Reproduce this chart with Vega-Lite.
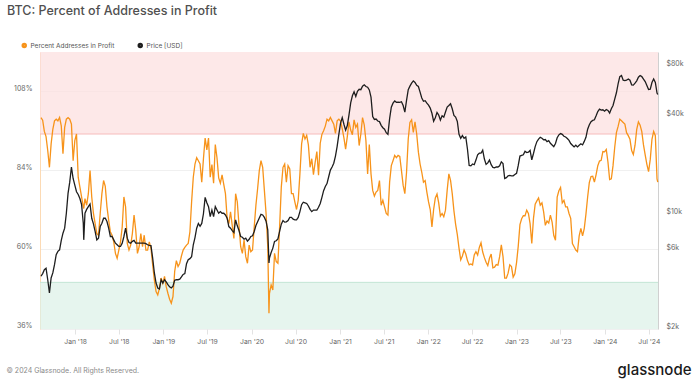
{
  "$schema": "https://vega.github.io/schema/vega-lite/v6.json",
  "width": 618,
  "height": 277,
  "autosize": {"type": "none"},
  "padding": {"left": 40, "top": 52, "right": 42, "bottom": 54},
  "background": "#ffffff",
  "title": {"text": "BTC: Percent of Addresses in Profit", "anchor": "start", "frame": "group", "dx": -33, "offset": 25, "fontSize": 12.5, "font": "Inter", "fontWeight": 500, "color": "#505050"},
  "config": {
    "view": {"stroke": null},
    "font": "Inter",
    "axisY": {
      "labelFontSize": 7, "labelColor": "#666666", "labelFont": "Inter", "labelBaseline": "bottom",
      "tickSize": 0, "labelPadding": 8, "grid": true, "gridColor": "#f0f0f0",
      "titleAngle": 0, "titleBaseline": "middle", "titleFont": "Inter"
    }
  },
  "datasets": {
    "zones": [
      {"zone": "profit", "lo": 95, "hi": 119.88},
      {"zone": "loss", "lo": 35.85, "hi": 50}
    ],
    "btc": [
      {"date":"2017-08-13","pct":100.0,"price":4200},
      {"date":"2017-08-20","pct":99.2,"price":4360},
      {"date":"2017-08-27","pct":95.8,"price":4610},
      {"date":"2017-09-03","pct":94.2,"price":4700},
      {"date":"2017-09-10","pct":90.0,"price":4000},
      {"date":"2017-09-17","pct":84.9,"price":3320},
      {"date":"2017-09-24","pct":92.0,"price":4100},
      {"date":"2017-10-01","pct":96.4,"price":4400},
      {"date":"2017-10-08","pct":99.0,"price":4940},
      {"date":"2017-10-15","pct":99.5,"price":5690},
      {"date":"2017-10-22","pct":99.0,"price":5960},
      {"date":"2017-10-29","pct":100.0,"price":6090},
      {"date":"2017-11-05","pct":97.5,"price":6950},
      {"date":"2017-11-12","pct":89.0,"price":7700},
      {"date":"2017-11-19","pct":97.0,"price":8260},
      {"date":"2017-11-26","pct":99.5,"price":10190},
      {"date":"2017-12-03","pct":100.0,"price":13480},
      {"date":"2017-12-10","pct":99.5,"price":15780},
      {"date":"2017-12-17","pct":98.0,"price":19540},
      {"date":"2017-12-24","pct":86.9,"price":16620},
      {"date":"2017-12-31","pct":93.0,"price":15150},
      {"date":"2018-01-07","pct":95.0,"price":13790},
      {"date":"2018-01-14","pct":81.9,"price":13270},
      {"date":"2018-01-21","pct":78.9,"price":12540},
      {"date":"2018-01-28","pct":75.9,"price":11500},
      {"date":"2018-02-04","pct":72.9,"price":8860},
      {"date":"2018-02-06","pct":72.4,"price":7010},
      {"date":"2018-02-11","pct":75.4,"price":10190},
      {"date":"2018-02-18","pct":73.4,"price":10760},
      {"date":"2018-02-25","pct":76.9,"price":11180},
      {"date":"2018-03-04","pct":83.9,"price":11600},
      {"date":"2018-03-11","pct":75.9,"price":9500},
      {"date":"2018-03-18","pct":70.9,"price":8780},
      {"date":"2018-03-25","pct":67.8,"price":7890},
      {"date":"2018-04-01","pct":64.8,"price":7010},
      {"date":"2018-04-08","pct":64.3,"price":7180},
      {"date":"2018-04-15","pct":70.9,"price":8450},
      {"date":"2018-04-22","pct":76.9,"price":8860},
      {"date":"2018-04-29","pct":80.9,"price":9500},
      {"date":"2018-05-06","pct":79.1,"price":9500},
      {"date":"2018-05-13","pct":72.9,"price":9070},
      {"date":"2018-05-20","pct":68.9,"price":8260},
      {"date":"2018-05-27","pct":65.3,"price":7350},
      {"date":"2018-06-03","pct":64.3,"price":7350},
      {"date":"2018-06-10","pct":62.3,"price":7010},
      {"date":"2018-06-17","pct":58.8,"price":6690},
      {"date":"2018-06-24","pct":57.3,"price":6540},
      {"date":"2018-07-01","pct":59.8,"price":6390},
      {"date":"2018-07-08","pct":62.3,"price":6390},
      {"date":"2018-07-15","pct":66.8,"price":6690},
      {"date":"2018-07-22","pct":75.9,"price":7350},
      {"date":"2018-07-29","pct":72.9,"price":8260},
      {"date":"2018-08-05","pct":61.8,"price":7180},
      {"date":"2018-08-12","pct":59.8,"price":6750},
      {"date":"2018-08-19","pct":61.3,"price":6690},
      {"date":"2018-08-26","pct":64.8,"price":6860},
      {"date":"2018-09-02","pct":70.4,"price":6950},
      {"date":"2018-09-09","pct":65.8,"price":6690},
      {"date":"2018-09-16","pct":58.8,"price":6690},
      {"date":"2018-09-23","pct":60.8,"price":6690},
      {"date":"2018-09-30","pct":64.8,"price":6690},
      {"date":"2018-10-07","pct":60.8,"price":6690},
      {"date":"2018-10-14","pct":64.3,"price":6690},
      {"date":"2018-10-21","pct":59.8,"price":6640},
      {"date":"2018-10-28","pct":59.8,"price":6540},
      {"date":"2018-11-04","pct":62.3,"price":6480},
      {"date":"2018-11-11","pct":60.3,"price":6460},
      {"date":"2018-11-18","pct":55.3,"price":5420},
      {"date":"2018-11-25","pct":50.7,"price":4400},
      {"date":"2018-12-02","pct":47.2,"price":3820},
      {"date":"2018-12-09","pct":46.2,"price":3560},
      {"date":"2018-12-16","pct":48.2,"price":3510},
      {"date":"2018-12-23","pct":51.3,"price":4000},
      {"date":"2018-12-30","pct":49.7,"price":3820},
      {"date":"2019-01-06","pct":51.8,"price":4000},
      {"date":"2019-01-13","pct":48.7,"price":3880},
      {"date":"2019-01-20","pct":46.7,"price":3730},
      {"date":"2019-01-27","pct":44.9,"price":3620},
      {"date":"2019-02-03","pct":43.7,"price":3560},
      {"date":"2019-02-10","pct":45.7,"price":3650},
      {"date":"2019-02-17","pct":53.3,"price":3970},
      {"date":"2019-02-24","pct":56.6,"price":4000},
      {"date":"2019-03-03","pct":54.8,"price":4000},
      {"date":"2019-03-10","pct":55.8,"price":4030},
      {"date":"2019-03-17","pct":58.0,"price":4160},
      {"date":"2019-03-24","pct":59.8,"price":4310},
      {"date":"2019-03-31","pct":60.6,"price":4360},
      {"date":"2019-04-07","pct":61.3,"price":5010},
      {"date":"2019-04-14","pct":61.8,"price":5300},
      {"date":"2019-04-21","pct":65.3,"price":5380},
      {"date":"2019-04-28","pct":74.4,"price":5530},
      {"date":"2019-05-05","pct":81.9,"price":6540},
      {"date":"2019-05-12","pct":85.9,"price":7240},
      {"date":"2019-05-19","pct":87.8,"price":8260},
      {"date":"2019-05-26","pct":86.9,"price":8830},
      {"date":"2019-06-02","pct":85.9,"price":8490},
      {"date":"2019-06-09","pct":80.4,"price":8830},
      {"date":"2019-06-16","pct":87.5,"price":10120},
      {"date":"2019-06-23","pct":93.8,"price":12750},
      {"date":"2019-06-30","pct":90.2,"price":11810},
      {"date":"2019-07-07","pct":93.8,"price":11180},
      {"date":"2019-07-14","pct":81.9,"price":9730},
      {"date":"2019-07-21","pct":85.7,"price":10660},
      {"date":"2019-07-28","pct":80.1,"price":9730},
      {"date":"2019-08-04","pct":91.8,"price":11180},
      {"date":"2019-08-11","pct":87.8,"price":10660},
      {"date":"2019-08-18","pct":81.7,"price":10190},
      {"date":"2019-08-25","pct":80.1,"price":10430},
      {"date":"2019-09-01","pct":82.6,"price":10190},
      {"date":"2019-09-08","pct":79.7,"price":10190},
      {"date":"2019-09-15","pct":76.9,"price":9950},
      {"date":"2019-09-22","pct":69.4,"price":9500},
      {"date":"2019-09-29","pct":67.8,"price":8450},
      {"date":"2019-10-06","pct":71.4,"price":8260},
      {"date":"2019-10-13","pct":67.3,"price":7990},
      {"date":"2019-10-20","pct":63.3,"price":7770},
      {"date":"2019-10-27","pct":76.9,"price":9280},
      {"date":"2019-11-03","pct":74.4,"price":8540},
      {"date":"2019-11-10","pct":67.3,"price":7990},
      {"date":"2019-11-17","pct":60.8,"price":7350},
      {"date":"2019-11-24","pct":58.8,"price":7270},
      {"date":"2019-12-01","pct":62.8,"price":7070},
      {"date":"2019-12-08","pct":57.8,"price":7180},
      {"date":"2019-12-15","pct":55.8,"price":6890},
      {"date":"2019-12-22","pct":61.3,"price":7070},
      {"date":"2019-12-29","pct":59.3,"price":7350},
      {"date":"2020-01-05","pct":59.8,"price":7420},
      {"date":"2020-01-12","pct":66.8,"price":7890},
      {"date":"2020-01-19","pct":73.4,"price":8570},
      {"date":"2020-01-26","pct":78.4,"price":9030},
      {"date":"2020-02-02","pct":83.9,"price":9540},
      {"date":"2020-02-09","pct":86.9,"price":10030},
      {"date":"2020-02-16","pct":84.9,"price":9950},
      {"date":"2020-02-23","pct":77.9,"price":9610},
      {"date":"2020-03-01","pct":70.9,"price":9110},
      {"date":"2020-03-08","pct":60.8,"price":8070},
      {"date":"2020-03-13","pct":40.6,"price":5060},
      {"date":"2020-03-15","pct":46.6,"price":5420},
      {"date":"2020-03-22","pct":49.2,"price":5870},
      {"date":"2020-03-29","pct":47.7,"price":6240},
      {"date":"2020-04-05","pct":58.8,"price":6860},
      {"date":"2020-04-12","pct":56.3,"price":6920},
      {"date":"2020-04-19","pct":55.8,"price":7110},
      {"date":"2020-04-26","pct":66.8,"price":7890},
      {"date":"2020-05-03","pct":78.9,"price":8740},
      {"date":"2020-05-10","pct":84.9,"price":9200},
      {"date":"2020-05-17","pct":85.9,"price":8990},
      {"date":"2020-05-24","pct":80.4,"price":9030},
      {"date":"2020-05-31","pct":85.4,"price":9200},
      {"date":"2020-06-07","pct":84.4,"price":9610},
      {"date":"2020-06-14","pct":76.9,"price":9610},
      {"date":"2020-06-21","pct":76.9,"price":9370},
      {"date":"2020-06-28","pct":74.4,"price":9280},
      {"date":"2020-07-05","pct":72.1,"price":9280},
      {"date":"2020-07-12","pct":74.9,"price":9610},
      {"date":"2020-07-19","pct":82.9,"price":10430},
      {"date":"2020-07-26","pct":92.0,"price":11500},
      {"date":"2020-08-02","pct":95.2,"price":11910},
      {"date":"2020-08-09","pct":93.5,"price":11810},
      {"date":"2020-08-16","pct":94.6,"price":11700},
      {"date":"2020-08-23","pct":91.7,"price":11290},
      {"date":"2020-08-30","pct":84.9,"price":10760},
      {"date":"2020-09-06","pct":87.5,"price":10430},
      {"date":"2020-09-13","pct":82.7,"price":10660},
      {"date":"2020-09-20","pct":86.4,"price":10660},
      {"date":"2020-09-27","pct":89.7,"price":10660},
      {"date":"2020-10-04","pct":82.5,"price":11080},
      {"date":"2020-10-11","pct":92.2,"price":11700},
      {"date":"2020-10-18","pct":94.9,"price":12750},
      {"date":"2020-10-25","pct":96.0,"price":14000},
      {"date":"2020-11-01","pct":97.4,"price":14840},
      {"date":"2020-11-08","pct":99.5,"price":15470},
      {"date":"2020-11-15","pct":99.0,"price":17030},
      {"date":"2020-11-22","pct":100.0,"price":18710},
      {"date":"2020-11-29","pct":99.0,"price":19540},
      {"date":"2020-12-06","pct":98.0,"price":20590},
      {"date":"2020-12-13","pct":95.2,"price":22780},
      {"date":"2020-12-20","pct":99.0,"price":26130},
      {"date":"2020-12-27","pct":99.5,"price":30930},
      {"date":"2021-01-03","pct":98.9,"price":36260},
      {"date":"2021-01-10","pct":96.6,"price":39080},
      {"date":"2021-01-17","pct":93.8,"price":35630},
      {"date":"2021-01-24","pct":90.4,"price":32810},
      {"date":"2021-01-31","pct":94.2,"price":35010},
      {"date":"2021-02-07","pct":98.7,"price":40650},
      {"date":"2021-02-14","pct":96.2,"price":48170},
      {"date":"2021-02-21","pct":94.8,"price":53190},
      {"date":"2021-02-28","pct":99.3,"price":56220},
      {"date":"2021-03-07","pct":97.0,"price":52670},
      {"date":"2021-03-14","pct":98.0,"price":56740},
      {"date":"2021-03-21","pct":91.5,"price":58310},
      {"date":"2021-03-28","pct":95.0,"price":58000},
      {"date":"2021-04-04","pct":100.0,"price":60920},
      {"date":"2021-04-11","pct":97.8,"price":62070},
      {"date":"2021-04-18","pct":93.0,"price":60610},
      {"date":"2021-04-25","pct":82.9,"price":59980},
      {"date":"2021-05-02","pct":91.8,"price":57790},
      {"date":"2021-05-09","pct":82.9,"price":52150},
      {"date":"2021-05-16","pct":77.9,"price":39710},
      {"date":"2021-05-23","pct":76.2,"price":38140},
      {"date":"2021-05-30","pct":77.4,"price":38350},
      {"date":"2021-06-06","pct":77.9,"price":37310},
      {"date":"2021-06-13","pct":80.9,"price":36990},
      {"date":"2021-06-20","pct":73.4,"price":35110},
      {"date":"2021-06-27","pct":74.9,"price":33960},
      {"date":"2021-07-04","pct":72.9,"price":33230},
      {"date":"2021-07-11","pct":70.9,"price":31660},
      {"date":"2021-07-18","pct":70.4,"price":30930},
      {"date":"2021-07-25","pct":80.4,"price":38560},
      {"date":"2021-08-01","pct":85.4,"price":45350},
      {"date":"2021-08-08","pct":86.9,"price":47970},
      {"date":"2021-08-15","pct":88.5,"price":49430},
      {"date":"2021-08-22","pct":87.8,"price":48490},
      {"date":"2021-08-29","pct":88.5,"price":48700},
      {"date":"2021-09-05","pct":88.2,"price":48490},
      {"date":"2021-09-12","pct":83.9,"price":48910},
      {"date":"2021-09-19","pct":79.4,"price":46400},
      {"date":"2021-09-26","pct":76.9,"price":42320},
      {"date":"2021-10-03","pct":83.4,"price":49850},
      {"date":"2021-10-10","pct":93.5,"price":58000},
      {"date":"2021-10-17","pct":98.5,"price":60920},
      {"date":"2021-10-24","pct":99.3,"price":63540},
      {"date":"2021-10-31","pct":95.5,"price":65630},
      {"date":"2021-11-07","pct":98.7,"price":64160},
      {"date":"2021-11-14","pct":95.0,"price":61660},
      {"date":"2021-11-21","pct":89.5,"price":60610},
      {"date":"2021-11-28","pct":85.9,"price":56010},
      {"date":"2021-12-05","pct":83.4,"price":51620},
      {"date":"2021-12-12","pct":80.4,"price":49220},
      {"date":"2021-12-19","pct":80.9,"price":49640},
      {"date":"2021-12-26","pct":77.4,"price":47970},
      {"date":"2022-01-02","pct":74.4,"price":46610},
      {"date":"2022-01-09","pct":72.1,"price":44730},
      {"date":"2022-01-16","pct":66.8,"price":41590},
      {"date":"2022-01-23","pct":72.1,"price":37200},
      {"date":"2022-01-30","pct":75.6,"price":39080},
      {"date":"2022-02-06","pct":76.8,"price":42110},
      {"date":"2022-02-13","pct":74.1,"price":40550},
      {"date":"2022-02-20","pct":70.1,"price":37830},
      {"date":"2022-02-27","pct":70.9,"price":40130},
      {"date":"2022-03-06","pct":69.9,"price":39400},
      {"date":"2022-03-13","pct":71.9,"price":42320},
      {"date":"2022-03-20","pct":77.9,"price":45350},
      {"date":"2022-03-27","pct":82.9,"price":46400},
      {"date":"2022-04-03","pct":80.9,"price":47550},
      {"date":"2022-04-10","pct":76.9,"price":44310},
      {"date":"2022-04-17","pct":71.7,"price":40340},
      {"date":"2022-04-24","pct":67.6,"price":39400},
      {"date":"2022-05-01","pct":64.5,"price":37100},
      {"date":"2022-05-08","pct":60.4,"price":30930},
      {"date":"2022-05-15","pct":56.8,"price":29260},
      {"date":"2022-05-22","pct":58.0,"price":30410},
      {"date":"2022-05-29","pct":59.8,"price":29260},
      {"date":"2022-06-05","pct":58.6,"price":29780},
      {"date":"2022-06-12","pct":56.6,"price":25080},
      {"date":"2022-06-19","pct":55.3,"price":19960},
      {"date":"2022-06-26","pct":55.6,"price":19860},
      {"date":"2022-07-03","pct":55.3,"price":20380},
      {"date":"2022-07-10","pct":58.3,"price":20170},
      {"date":"2022-07-17","pct":59.3,"price":21530},
      {"date":"2022-07-24","pct":58.3,"price":23200},
      {"date":"2022-07-31","pct":60.6,"price":23720},
      {"date":"2022-08-07","pct":62.0,"price":23720},
      {"date":"2022-08-14","pct":59.2,"price":24770},
      {"date":"2022-08-21","pct":57.5,"price":21840},
      {"date":"2022-08-28","pct":56.1,"price":20270},
      {"date":"2022-09-04","pct":55.1,"price":20690},
      {"date":"2022-09-11","pct":57.3,"price":21530},
      {"date":"2022-09-18","pct":58.6,"price":20170},
      {"date":"2022-09-25","pct":54.4,"price":19440},
      {"date":"2022-10-02","pct":54.6,"price":19330},
      {"date":"2022-10-09","pct":55.4,"price":19540},
      {"date":"2022-10-16","pct":55.2,"price":19540},
      {"date":"2022-10-23","pct":57.8,"price":19860},
      {"date":"2022-10-30","pct":61.4,"price":21000},
      {"date":"2022-11-06","pct":57.8,"price":20480},
      {"date":"2022-11-13","pct":51.3,"price":16620},
      {"date":"2022-11-20","pct":51.3,"price":16820},
      {"date":"2022-11-27","pct":52.8,"price":17240},
      {"date":"2022-12-04","pct":55.3,"price":17350},
      {"date":"2022-12-11","pct":54.8,"price":17240},
      {"date":"2022-12-18","pct":51.6,"price":17240},
      {"date":"2022-12-25","pct":52.6,"price":17560},
      {"date":"2023-01-01","pct":56.0,"price":17870},
      {"date":"2023-01-08","pct":61.0,"price":19960},
      {"date":"2023-01-15","pct":67.5,"price":22780},
      {"date":"2023-01-22","pct":69.3,"price":22990},
      {"date":"2023-01-29","pct":70.2,"price":23200},
      {"date":"2023-02-05","pct":70.2,"price":24350},
      {"date":"2023-02-12","pct":71.9,"price":23930},
      {"date":"2023-02-19","pct":70.9,"price":24040},
      {"date":"2023-02-26","pct":67.8,"price":24660},
      {"date":"2023-03-05","pct":61.8,"price":21630},
      {"date":"2023-03-12","pct":69.4,"price":23620},
      {"date":"2023-03-19","pct":73.7,"price":26020},
      {"date":"2023-03-26","pct":74.7,"price":27900},
      {"date":"2023-04-02","pct":75.6,"price":28950},
      {"date":"2023-04-09","pct":73.4,"price":29680},
      {"date":"2023-04-16","pct":74.1,"price":29260},
      {"date":"2023-04-23","pct":71.4,"price":28630},
      {"date":"2023-04-30","pct":67.3,"price":28740},
      {"date":"2023-05-07","pct":68.6,"price":27900},
      {"date":"2023-05-14","pct":68.0,"price":28320},
      {"date":"2023-05-21","pct":70.4,"price":27270},
      {"date":"2023-05-28","pct":68.3,"price":26650},
      {"date":"2023-06-04","pct":64.2,"price":26020},
      {"date":"2023-06-11","pct":62.8,"price":27170},
      {"date":"2023-06-18","pct":75.9,"price":29470},
      {"date":"2023-06-25","pct":77.8,"price":30720},
      {"date":"2023-07-02","pct":78.8,"price":31250},
      {"date":"2023-07-09","pct":74.1,"price":30930},
      {"date":"2023-07-16","pct":74.9,"price":30100},
      {"date":"2023-07-23","pct":72.9,"price":29780},
      {"date":"2023-07-30","pct":72.9,"price":29160},
      {"date":"2023-08-06","pct":70.9,"price":28420},
      {"date":"2023-08-13","pct":69.4,"price":27170},
      {"date":"2023-08-20","pct":61.8,"price":26540},
      {"date":"2023-08-27","pct":60.8,"price":25920},
      {"date":"2023-09-03","pct":59.8,"price":26540},
      {"date":"2023-09-10","pct":59.3,"price":25920},
      {"date":"2023-09-17","pct":64.1,"price":26540},
      {"date":"2023-09-24","pct":66.4,"price":27070},
      {"date":"2023-10-01","pct":64.1,"price":26650},
      {"date":"2023-10-08","pct":66.3,"price":28010},
      {"date":"2023-10-15","pct":70.7,"price":29680},
      {"date":"2023-10-22","pct":75.9,"price":33230},
      {"date":"2023-10-29","pct":80.3,"price":35430},
      {"date":"2023-11-05","pct":82.1,"price":36990},
      {"date":"2023-11-12","pct":82.2,"price":37620},
      {"date":"2023-11-19","pct":80.4,"price":37930},
      {"date":"2023-11-26","pct":82.7,"price":40130},
      {"date":"2023-12-03","pct":85.4,"price":42640},
      {"date":"2023-12-10","pct":86.8,"price":44100},
      {"date":"2023-12-17","pct":87.0,"price":43470},
      {"date":"2023-12-24","pct":89.7,"price":43680},
      {"date":"2023-12-31","pct":89.6,"price":42850},
      {"date":"2024-01-07","pct":90.3,"price":43890},
      {"date":"2024-01-14","pct":86.5,"price":43260},
      {"date":"2024-01-21","pct":81.2,"price":41700},
      {"date":"2024-01-28","pct":81.4,"price":44310},
      {"date":"2024-02-04","pct":85.4,"price":46400},
      {"date":"2024-02-11","pct":91.0,"price":50790},
      {"date":"2024-02-18","pct":95.4,"price":55490},
      {"date":"2024-02-25","pct":97.3,"price":62910},
      {"date":"2024-03-03","pct":99.5,"price":69700},
      {"date":"2024-03-10","pct":99.0,"price":70750},
      {"date":"2024-03-17","pct":98.5,"price":66250},
      {"date":"2024-03-24","pct":98.0,"price":65940},
      {"date":"2024-03-31","pct":95.4,"price":66250},
      {"date":"2024-04-07","pct":94.5,"price":67400},
      {"date":"2024-04-14","pct":93.4,"price":66250},
      {"date":"2024-04-21","pct":90.0,"price":62070},
      {"date":"2024-04-28","pct":88.8,"price":61860},
      {"date":"2024-05-05","pct":91.6,"price":63540},
      {"date":"2024-05-12","pct":96.4,"price":65630},
      {"date":"2024-05-19","pct":98.7,"price":69070},
      {"date":"2024-05-26","pct":97.7,"price":70750},
      {"date":"2024-06-02","pct":95.7,"price":69700},
      {"date":"2024-06-09","pct":91.7,"price":67300},
      {"date":"2024-06-16","pct":88.7,"price":65000},
      {"date":"2024-06-23","pct":85.8,"price":61450},
      {"date":"2024-06-30","pct":83.6,"price":58100},
      {"date":"2024-07-07","pct":87.3,"price":58310},
      {"date":"2024-07-14","pct":93.4,"price":64160},
      {"date":"2024-07-21","pct":95.8,"price":67300},
      {"date":"2024-07-28","pct":94.5,"price":64160},
      {"date":"2024-08-04","pct":81.4,"price":55280},
      {"date":"2024-08-07","pct":80.4,"price":54130}
    ]
  },
  "layer": [
    {
      "layer": [
        {
          "data": {"name": "zones"},
          "mark": {"type": "rect", "fillOpacity": 0.7},
          "encoding": {
            "y": {
              "field": "hi", "type": "quantitative",
              "scale": {"domain": [35.85, 119.88], "nice": false, "zero": false},
              "axis": {
                "values": [36, 60, 84, 108], "labelExpr": "format(datum.value, 'd') + '%'", "domainColor": "#fcdab4",
                "title": "© 2024 Glassnode. All Rights Reserved.", "titleAlign": "left",
                "titleX": -34, "titleY": 318, "titleFontSize": 7, "titleFontWeight": "normal", "titleColor": "#8a8a8a"
              }
            },
            "y2": {"field": "lo"},
            "fill": {"field": "zone", "type": "nominal", "scale": {"domain": ["profit", "loss"], "range": ["#fcdede", "#dbf1e7"]}, "legend": null}
          }
        },
        {
          "data": {"name": "zones"},
          "transform": [{"filter": "datum.zone === 'profit'"}],
          "mark": {"type": "rule", "color": "#f6bcbc", "strokeWidth": 1},
          "encoding": {
            "y": {
              "field": "lo", "type": "quantitative",
              "scale": {"domain": [35.85, 119.88], "nice": false, "zero": false},
              "axis": {
                "values": [36, 60, 84, 108], "labelExpr": "format(datum.value, 'd') + '%'", "domainColor": "#fcdab4",
                "title": "© 2024 Glassnode. All Rights Reserved.", "titleAlign": "left",
                "titleX": -34, "titleY": 318, "titleFontSize": 7, "titleFontWeight": "normal", "titleColor": "#8a8a8a"
              }
            }
          }
        },
        {
          "data": {"name": "zones"},
          "transform": [{"filter": "datum.zone === 'loss'"}],
          "mark": {"type": "rule", "color": "#c3e6d5", "strokeWidth": 1},
          "encoding": {
            "y": {
              "field": "hi", "type": "quantitative",
              "scale": {"domain": [35.85, 119.88], "nice": false, "zero": false},
              "axis": {
                "values": [36, 60, 84, 108], "labelExpr": "format(datum.value, 'd') + '%'", "domainColor": "#fcdab4",
                "title": "© 2024 Glassnode. All Rights Reserved.", "titleAlign": "left",
                "titleX": -34, "titleY": 318, "titleFontSize": 7, "titleFontWeight": "normal", "titleColor": "#8a8a8a"
              }
            }
          }
        },
        {
          "data": {"name": "btc"},
          "mark": {"type": "line", "strokeWidth": 1.3},
          "encoding": {
            "x": {
              "field": "date", "type": "temporal",
              "scale": {"type": "utc", "domain": [{"year": 2017, "month": "aug", "date": 9, "utc": true}, {"year": 2024, "month": "aug", "date": 8, "utc": true}]},
              "axis": {
                "values": [
                  {"year": 2018, "month": "jan", "date": 1, "utc": true}, {"year": 2018, "month": "jul", "date": 1, "utc": true},
                  {"year": 2019, "month": "jan", "date": 1, "utc": true}, {"year": 2019, "month": "jul", "date": 1, "utc": true},
                  {"year": 2020, "month": "jan", "date": 1, "utc": true}, {"year": 2020, "month": "jul", "date": 1, "utc": true},
                  {"year": 2021, "month": "jan", "date": 1, "utc": true}, {"year": 2021, "month": "jul", "date": 1, "utc": true},
                  {"year": 2022, "month": "jan", "date": 1, "utc": true}, {"year": 2022, "month": "jul", "date": 1, "utc": true},
                  {"year": 2023, "month": "jan", "date": 1, "utc": true}, {"year": 2023, "month": "jul", "date": 1, "utc": true},
                  {"year": 2024, "month": "jan", "date": 1, "utc": true}, {"year": 2024, "month": "jul", "date": 1, "utc": true}
                ],
                "format": "%b '%y", "title": null, "grid": false, "domain": false,
                "tickColor": "#e3e3e3", "tickSize": 5, "labelPadding": 4,
                "labelFontSize": 6.8, "labelColor": "#666666", "labelFont": "Inter", "labelFlush": false
              }
            },
            "y": {
              "field": "pct", "type": "quantitative",
              "scale": {"domain": [35.85, 119.88], "nice": false, "zero": false},
              "axis": {
                "values": [36, 60, 84, 108], "labelExpr": "format(datum.value, 'd') + '%'", "domainColor": "#fcdab4",
                "title": "© 2024 Glassnode. All Rights Reserved.", "titleAlign": "left",
                "titleX": -34, "titleY": 318, "titleFontSize": 7, "titleFontWeight": "normal", "titleColor": "#8a8a8a"
              }
            },
            "color": {
              "datum": "Percent Addresses in Profit",
              "scale": {"domain": ["Percent Addresses in Profit", "Price [USD]"], "range": ["#f7931a", "#1e1e1e"]},
              "legend": {
                "orient": "none", "legendX": -19, "legendY": -10, "direction": "horizontal", "title": null,
                "symbolType": "circle", "symbolSize": 6, "symbolStrokeWidth": 3,
                "labelFontSize": 6.5, "labelColor": "#555555", "labelFont": "Inter", "columnPadding": 18, "labelOffset": 3
              }
            }
          }
        }
      ]
    },
    {
      "data": {"name": "btc"},
      "mark": {"type": "line", "strokeWidth": 1.3},
      "encoding": {
        "x": {"field": "date", "type": "temporal"},
        "y": {
          "field": "price", "type": "quantitative",
          "scale": {"type": "log", "domain": [2000, 98500], "nice": false},
          "axis": {
            "orient": "right", "values": [2000, 6000, 10000, 40000, 80000],
            "labelExpr": "'$' + (datum.value / 1000) + 'k'", "domainColor": "#d0d0d0",
            "title": "glassnode", "titleAlign": "right",
            "titleX": 33, "titleY": 317, "titleFontSize": 15, "titleFontWeight": 500, "titleColor": "#1a1a1a"
          }
        },
        "color": {"datum": "Price [USD]"}
      }
    }
  ],
  "resolve": {"scale": {"y": "independent"}, "axis": {"y": "independent"}}
}
